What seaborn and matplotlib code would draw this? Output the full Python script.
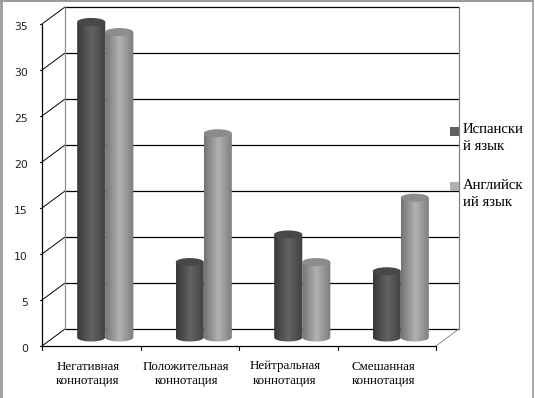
import numpy as np
import pandas as pd
import matplotlib
matplotlib.use('Agg')
import matplotlib.pyplot as plt
from matplotlib.colors import LinearSegmentedColormap
from matplotlib.patches import Ellipse, Rectangle
from matplotlib.path import Path
import seaborn as sns

categories = ['Негативная\nконнотация', 'Положительная\nконнотация',
              'Нейтральная\nконнотация', 'Смешанная\nконнотация']
spanish = [34.3, 8.2, 11.2, 7.2]
english = [33.2, 22.2, 8.2, 15.2]
series_names = ['Испанский язык', 'Английский язык']
legend_labels = ['Испански\nй язык', 'Английск\nий язык']
y_ticks = [0, 5, 10, 15, 20, 25, 30, 35]

# оттенки цилиндров: край, середина, край
dark_shades = ['#383838', '#646464', '#404040']
light_shades = ['#747474', '#b2b2b2', '#7c7c7c']
top_colors = ['#484848', '#8c8c8c']
swatch_colors = ['#606060', '#b0b0b0']

W, H = 535, 398
PX_Y = 9.2    # пикселей на единицу оси y
PX_X = 98.5   # пикселей на категорию


def fx(px):
    return px / W


def fy(py):
    return 1 - py / H


sns.set_theme(style='white')
plt.rcParams['font.family'] = ['Liberation Serif', 'DejaVu Serif']

df = pd.DataFrame({
    'category': categories * 2,
    'series': [series_names[0]] * 4 + [series_names[1]] * 4,
    'value': spanish + english,
})

fig = plt.figure(figsize=(W / 100, H / 100), dpi=100, facecolor='white')
y_low, y_high = -2, 36.5
ax = fig.add_axes([fx(56), fy(337.5 - y_low * PX_Y), 394 / W, (y_high - y_low) * PX_Y / H])

sns.barplot(data=df, x='category', y='value', hue='series', hue_order=series_names,
            palette=swatch_colors, width=0.57, gap=0, legend=False, ax=ax, zorder=3)

# смещение "глубины" псевдо-3D: передняя грань и задняя стенка
x_front = -0.5 - 14 / PX_X
x_back = -0.5 + 9 / PX_X
x_back_end = 3.5 + 9 / PX_X
x_front_end = 3.5 - 14 / PX_X
dy = 8.5 / PX_Y

# сетка на задней стенке и диагонали
for v in y_ticks:
    ax.plot([x_back, x_back_end], [v + dy, v + dy], color='black', lw=0.9, zorder=1, clip_on=False)
    ax.plot([x_front, x_back], [v - dy, v + dy], color='black', lw=0.7, zorder=1, clip_on=False)
    ax.plot([x_front - 2.5 / PX_X, x_front], [v - dy, v - dy], color='black', lw=0.8, clip_on=False)
    ax.text(x_front - 14 / PX_X, v - dy - 3.5 / PX_Y, str(v), ha='right', va='center', fontsize=7.8,
            family='DejaVu Sans', color='#222222')

ax.plot([x_back, x_back], [0 + dy, 35 + dy], color='#909090', lw=0.9, zorder=1, clip_on=False)
ax.plot([x_back_end, x_back_end], [0 + dy, 35 + dy], color='#808080', lw=0.9, zorder=1, clip_on=False)
ax.plot([x_front_end, x_back_end], [-dy, dy], color='#909090', lw=0.7, zorder=1, clip_on=False)

# передние оси
ax.plot([x_front, x_front], [-dy, 35 - dy], color='black', lw=0.9, clip_on=False)
ax.plot([x_front, x_front_end], [-dy, -dy], color='black', lw=0.9, clip_on=False)
for i in range(len(categories) + 1):
    tx = x_front + i
    ax.plot([tx, tx], [-dy, -dy - 4 / PX_Y], color='black', lw=0.8, clip_on=False)
for i, label in enumerate(categories):
    ax.text(x_front + i + 0.5 - 3.5 / PX_X, -dy - 14.5 / PX_Y, label, ha='center', va='top', fontsize=9.4,
            linespacing=1.25, color='black', clip_on=False)

# цилиндры поверх столбиков seaborn
ell = 8 / PX_Y
gradient = np.linspace(0, 1, 64).reshape(1, -1)
for container, shades, top in zip(ax.containers, [dark_shades, light_shades], top_colors):
    cmap = LinearSegmentedColormap.from_list('cyl', shades)
    for patch in container:
        x0, w, h = patch.get_x(), patch.get_width(), patch.get_height()
        patch.set_visible(False)
        t = np.linspace(np.pi, 2 * np.pi, 30)
        arc = np.column_stack([x0 + w / 2 + w / 2 * np.cos(t), ell / 2 * np.sin(t)])
        outline = np.vstack([[[x0, h], [x0, 0]], arc, [[x0 + w, h], [x0, h]]])
        im = ax.imshow(gradient, extent=(x0, x0 + w, -ell, h), aspect='auto', cmap=cmap, zorder=4)
        im.set_clip_path(Path(outline), ax.transData)
        ax.add_patch(Ellipse((x0 + w / 2, h), w, ell, facecolor=top, edgecolor='none', zorder=5))

ax.set_xlim(-0.5, 3.5)
ax.set_ylim(y_low, y_high)
ax.axis('off')

# легенда: подпись переносится как в оригинале
for label, color, sw_y, tx_y in zip(legend_labels, swatch_colors, [127, 182], [123, 179]):
    fig.add_artist(Rectangle((fx(450), fy(sw_y + 9)), 9 / W, 9 / H, transform=fig.transFigure,
                             facecolor=color, edgecolor='none'))
    fig.text(fx(463), fy(tx_y), label, ha='left', va='top', fontsize=10.6, linespacing=1.42, color='black')

# серая рамка картинки
for xs, ys, lw in [([1, 1], [0, 398], 2), ([0, 532.5], [0.5, 0.5], 1.5), ([532.5, 532.5], [0, 398], 1.2)]:
    fig.add_artist(plt.Line2D([fx(x) for x in xs], [fy(y) for y in ys], color='#9a9a9a', lw=lw,
                              transform=fig.transFigure))

fig.savefig('out.png', dpi=100)
